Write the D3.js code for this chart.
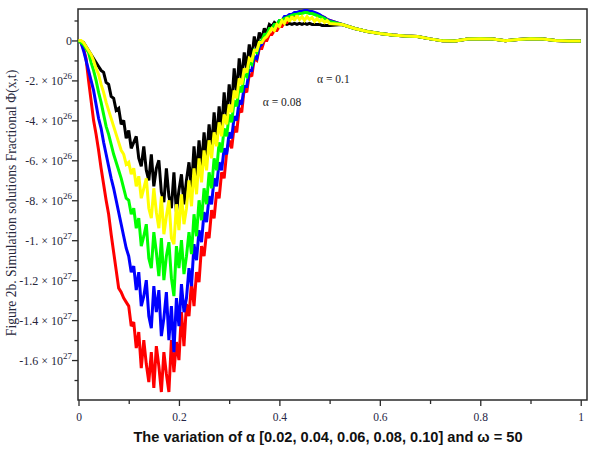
<!DOCTYPE html>
<meta charset="utf-8">
<style>
body {
  margin: 0;
  padding: 0;
  background-color: #fff;
}
svg { display: block; }
</style>
<script src="https://d3js.org/d3.v7.min.js"></script>

<div id="my_dataviz"></div>

<script>

// values in units of 1e26, one every 0.005 in x from 0 to 0.5
const step = 0.005;

const red = [0, -0.1, -0.4, -0.9, -2.0, -3.0, -4.0, -4.7, -5.5, -6.4,
  -7.2, -8.0, -8.7, -9.7, -10.6, -11.5, -12.4, -12.6, -12.9, -13.1,
  -13.3, -14.3, -14.1, -15.4, -14.6, -16.4, -15.0, -16.2, -17.1, -15.6,
  -17.4, -15.3, -16.3, -17.6, -15.6, -16.7, -17.6, -15.0, -16.6, -15.1,
  -16.0, -13.6, -15.3, -13.2, -13.8, -12.1, -13.3, -11.6, -12.1, -10.3,
  -10.8, -9.6, -9.9, -8.5, -8.9, -7.6, -7.9, -6.6, -6.9, -5.6,
  -5.0, -5.4, -4.3, -4.6, -3.4, -3.6, -2.4, -2.6, -1.7, -1.8,
  -0.9, -1.0, -0.4, -0.4, 0.0, 0.0, 0.3, 0.3, 0.5, 0.5,
  0.7, 0.7, 0.9, 0.9, 1.1, 1.1, 1.3, 1.3, 1.4, 1.4,
  1.45, 1.45, 1.45, 1.4, 1.35, 1.3, 1.25, 1.2, 1.15, 1.05, 1.0];

const blue = [0, -0.1, -0.5, -1.0, -1.5, -2.0, -2.5, -3.2, -3.9, -4.4,
  -5.1, -5.7, -6.3, -6.9, -7.4, -8.0, -8.6, -9.2, -9.8, -10.4,
  -10.8, -11.6, -11.3, -12.5, -11.6, -13.3, -12.8, -12.0, -13.8, -14.4,
  -12.3, -13.6, -12.5, -14.8, -13.9, -12.6, -15.0, -13.3, -15.6, -12.9,
  -14.3, -12.2, -13.6, -12.9, -11.4, -12.3, -10.2, -11.0, -9.5, -10.1,
  -8.6, -9.1, -7.8, -8.2, -6.9, -7.3, -6.1, -6.5, -5.4, -5.7,
  -4.6, -4.9, -3.8, -4.0, -3.0, -3.2, -2.3, -2.3, -1.5, -1.5,
  -0.8, -0.9, -0.3, -0.2, 0.2, 0.3, 0.5, 0.6, 0.8, 0.8,
  1.0, 1.0, 1.2, 1.2, 1.3, 1.3, 1.4, 1.4, 1.45, 1.45,
  1.5, 1.5, 1.45, 1.45, 1.4, 1.35, 1.3, 1.2, 1.15, 1.05, 1.0];

const green = [0, -0.1, -0.2, -0.4, -0.6, -1.1, -1.5, -2.0, -2.6, -3.1,
  -3.7, -4.3, -4.7, -5.2, -5.7, -6.1, -6.5, -6.9, -7.4, -7.9,
  -8.0, -8.7, -8.4, -9.4, -8.9, -10.3, -9.8, -9.2, -10.9, -11.4,
  -9.6, -10.6, -11.8, -9.9, -12.0, -10.8, -10.1, -11.9, -12.8, -10.3,
  -11.4, -10.0, -11.7, -10.8, -9.6, -10.7, -8.7, -9.8, -8.0, -9.0,
  -7.4, -8.2, -6.6, -7.4, -5.9, -6.5, -5.1, -5.6, -4.4, -4.8,
  -3.7, -4.1, -3.0, -3.3, -2.3, -2.6, -1.7, -1.8, -1.1, -1.2,
  -0.5, -0.6, -0.1, 0.0, 0.3, 0.3, 0.6, 0.6, 0.8, 0.8,
  1.0, 1.0, 1.1, 1.15, 1.2, 1.25, 1.3, 1.3, 1.35, 1.35,
  1.4, 1.4, 1.35, 1.35, 1.3, 1.25, 1.2, 1.15, 1.1, 1.0, 0.95];

const yellow = [0, 0.0, -0.1, -0.3, -0.5, -0.7, -1.0, -1.4, -1.7, -2.2,
  -2.6, -3.1, -3.5, -3.9, -4.3, -4.7, -5.1, -5.5, -5.7, -6.2,
  -6.1, -6.7, -6.4, -7.3, -6.8, -7.9, -7.4, -6.9, -8.4, -8.9,
  -7.4, -8.6, -9.4, -7.8, -9.7, -8.8, -8.0, -9.9, -10.2, -8.2,
  -9.5, -7.7, -9.2, -8.4, -7.0, -8.3, -6.4, -7.7, -5.9, -7.1,
  -5.5, -6.5, -5.0, -5.9, -4.6, -5.3, -4.1, -4.8, -3.7, -4.2,
  -3.2, -3.6, -2.5, -2.9, -1.9, -2.2, -1.4, -1.6, -0.9, -1.0,
  -0.5, -0.5, -0.1, -0.1, 0.1, 0.2, 0.4, 0.6, 0.5, 0.8,
  0.7, 1.0, 0.85, 1.15, 0.95, 1.2, 1.0, 1.25, 1.05, 1.2,
  1.0, 1.2, 1.05, 1.15, 0.95, 1.1, 0.95, 1.05, 0.9, 1.0, 0.85];

const black = [0, -0.05, -0.1, -0.3, -0.5, -0.7, -0.9, -1.1, -1.3, -1.5,
  -1.6, -2.1, -2.2, -2.8, -2.9, -3.5, -3.4, -4.2, -4.0, -4.9,
  -4.5, -5.4, -5.1, -4.8, -5.9, -6.3, -5.3, -6.5, -7.0, -5.7,
  -7.3, -6.4, -6.0, -7.6, -8.1, -6.4, -7.8, -8.4, -6.6, -8.6,
  -7.5, -6.7, -8.2, -7.0, -6.1, -7.4, -5.3, -6.8, -5.0, -6.3,
  -4.6, -5.9, -4.2, -5.4, -3.6, -5.0, -3.3, -4.5, -2.6, -4.0,
  -2.2, -3.3, -1.4, -2.7, -0.9, -2.0, -0.6, -1.4, -0.2, -0.9,
  0.2, -0.4, 0.4, 0.1, 0.6, 0.4, 0.8, 0.7, 0.9, 0.8,
  0.9, 0.8, 0.85, 0.8, 0.85, 0.8, 0.85, 0.8, 0.85, 0.8,
  0.85, 0.8, 0.85, 0.8, 0.8, 0.8, 0.8, 0.75, 0.75, 0.75, 0.75];

// all curves merge after x = 0.5
const tailX = [0.525, 0.55, 0.575, 0.6, 0.625, 0.65, 0.675, 0.7, 0.725, 0.75,
  0.775, 0.8, 0.825, 0.85, 0.875, 0.9, 0.925, 0.95, 0.975, 1.0];
const tailV = [0.8, 0.6, 0.45, 0.35, 0.27, 0.22, 0.2, 0.08, -0.02, -0.03,
  0.07, 0.08, 0.07, -0.02, 0.05, 0.08, 0.07, 0.0, -0.03, -0.03];

const xTicks = [0, 0.2, 0.4, 0.6, 0.8, 1];
const xTickLabels = ["0", "0.2", "0.4", "0.6", "0.8", "1"];
const xMinor = [0.1, 0.3, 0.5, 0.7, 0.9];

const yTicks = [0, -2, -4, -6, -8, -10, -12, -14, -16];
const yMant = ["0", "-2. \u00d7 10", "-4. \u00d7 10", "-6. \u00d7 10", "-8. \u00d7 10",
  "-1. \u00d7 10", "-1.2 \u00d7 10", "-1.4 \u00d7 10", "-1.6 \u00d7 10"];
const yExp = ["", "26", "26", "26", "26", "27", "27", "27", "27"];
const yMinor = [1, -1, -3, -5, -7, -9, -11, -13, -15, -17];

const width = 589, height = 450;

const svg = d3.select("#my_dataviz")
  .append("svg")
    .attr("width", width)
    .attr("height", height);

const x = d3.scaleLinear()
  .domain([0, 1.0125])
  .range([78.5, 587]);

const y = d3.scaleLinear()
  .domain([-18, 1.575])
  .range([400, 9]);

// frame
svg.append("rect")
  .attr("x", 78).attr("y", 9)
  .attr("width", 509).attr("height", 391)
  .attr("fill", "none")
  .attr("stroke", "#2a2a2a")
  .attr("stroke-width", 1.5);

// x axis
const gx = svg.append("g")
  .attr("transform", "translate(0,400)")
  .call(d3.axisBottom(x).tickValues(xTicks).tickSize(6).tickFormat((d, i) => xTickLabels[i]));
gx.select(".domain").remove();
gx.selectAll(".tick line").attr("stroke", "#2a2a2a").attr("stroke-width", 1.3);
gx.selectAll(".tick text")
  .attr("y", 13)
  .style("font-family", "'Liberation Serif', serif")
  .style("font-size", "11.5px")
  .attr("fill", "#262645");

const gxm = svg.append("g")
  .attr("transform", "translate(0,400)")
  .call(d3.axisBottom(x).tickValues(xMinor).tickSize(4).tickFormat(""));
gxm.select(".domain").remove();
gxm.selectAll(".tick line").attr("stroke", "#2a2a2a").attr("stroke-width", 1.3);

// y axis
const gy = svg.append("g")
  .attr("transform", "translate(78,0)")
  .call(d3.axisLeft(y).tickValues(yTicks).tickSize(6).tickFormat(""));
gy.select(".domain").remove();
gy.selectAll(".tick line").attr("stroke", "#2a2a2a").attr("stroke-width", 1.3);

const gym = svg.append("g")
  .attr("transform", "translate(78,0)")
  .call(d3.axisLeft(y).tickValues(yMinor).tickSize(3.5).tickFormat(""));
gym.select(".domain").remove();
gym.selectAll(".tick line").attr("stroke", "#2a2a2a").attr("stroke-width", 1.3);

const ylab = svg.append("g").selectAll("text")
  .data(yTicks)
  .join("text")
    .attr("x", 72)
    .attr("y", d => y(d) + 5)
    .attr("text-anchor", "end")
    .style("font-family", "'Liberation Serif', serif")
    .style("font-size", "12px")
    .attr("fill", "#26263a");
ylab.append("tspan").text((d, i) => yMant[i]);
ylab.append("tspan")
  .attr("dy", -6)
  .style("font-size", "9px")
  .text((d, i) => yExp[i]);

// curves
const series = [
  {color: "#000000", values: black},
  {color: "#ff0000", values: red},
  {color: "#0000ff", values: blue},
  {color: "#00ff00", values: green},
  {color: "#ffff00", values: yellow}
];

const line = d3.line()
  .x(d => x(d[0]))
  .y(d => y(d[1]));

series.forEach(s => {
  const pts = s.values.map((v, i) => [i * step, v])
    .concat(tailX.map((t, i) => [t, tailV[i]]));
  svg.append("path")
    .datum(pts)
    .attr("fill", "none")
    .attr("stroke", s.color)
    .attr("stroke-width", 3)
    .attr("stroke-linejoin", "miter")
    .attr("stroke-miterlimit", 2)
    .attr("d", line);
});

// annotations
const notes = [
  {text: "\u03b1 = 0.1", x: 0.475, v: -2.15},
  {text: "\u03b1 = 0.08", x: 0.367, v: -3.3}
];
svg.append("g").selectAll("text")
  .data(notes)
  .join("text")
    .attr("x", d => x(d.x))
    .attr("y", d => y(d.v))
    .style("font-family", "'Liberation Serif', serif")
    .style("font-size", "11.5px")
    .attr("fill", "#222")
    .text(d => d.text);

// axis titles
svg.append("text")
  .attr("x", 328)
  .attr("y", 442)
  .attr("text-anchor", "middle")
  .style("font-family", "'Liberation Sans', Arial, sans-serif")
  .style("font-weight", "bold")
  .style("font-size", "14.6px")
  .attr("fill", "#111")
  .text("The variation of \u03b1 [0.02, 0.04, 0.06, 0.08, 0.10] and \u03c9 = 50");

svg.append("text")
  .attr("transform", "translate(16,203) rotate(-90)")
  .attr("text-anchor", "middle")
  .style("font-family", "'Liberation Serif', serif")
  .style("font-size", "13.6px")
  .attr("fill", "#26263a")
  .text("Figure 2b. Simulation solutions Fractional \u03a6(x,t)");

</script>
